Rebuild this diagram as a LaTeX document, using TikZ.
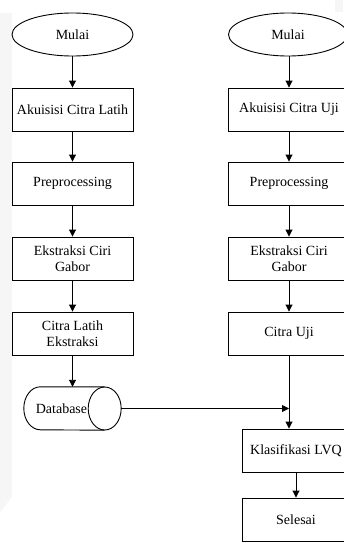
\documentclass[tikz,border=0pt]{standalone}
\usepackage{fontspec}
\setmainfont{Liberation Serif}
\usetikzlibrary{shapes.geometric,arrows.meta}
\tikzset{
  terminal/.style={shape=ellipse,draw=black,line width=0.9pt,inner sep=0pt,minimum height=43pt},
  process/.style={shape=rectangle,draw=black,line width=0.9pt,inner sep=0pt,minimum width=121pt,minimum height=43pt,align=center},
  store/.style={shape=rectangle,inner sep=0pt,minimum width=97pt,minimum height=43pt},
  flow/.style={-{Triangle[length=7pt,width=7pt]},line width=0.9pt}
}
\begin{document}
\begin{tikzpicture}[x=1pt,y=-1pt,font=\fontsize{14}{15.5}\selectfont]
\useasboundingbox (0,0) rectangle (343,543);
\fill[gray!7] (0,13) -- (12,13) -- (12,497) -- (0,512) -- cycle;
\fill[gray!7] (335,0) rectangle (343,12);
% training
\node[terminal,minimum width=121pt] (mulai1) at (72.5,34.5) {Mulai};
\node[process] (akuisisi1) at (72.5,109.5) {Akuisisi Citra Latih};
\node[process] (pre1) at (72.5,183.5) {Preprocessing};
\node[process] (ekstraksi1) at (72.5,258.5) {Ekstraksi Ciri\\Gabor};
\node[process] (citra1) at (72.5,333.5) {Citra Latih\\Ekstraksi};
\node[store] (db) at (72.5,408.5) {};
\draw[line width=0.9pt] ([xshift=-16.5pt]db.north east) -- ([xshift=16.5pt]db.north west)
  arc[start angle=90,end angle=270,x radius=16.5pt,y radius=21.5pt] -- ([xshift=-16.5pt]db.south east);
\draw[line width=0.9pt] ([xshift=-16.5pt]db.east) ellipse[x radius=16.5pt,y radius=21.5pt];
\node (dblabel) at ([xshift=-11pt]db.center) {Database};
% testing
\node[terminal,minimum width=119pt] (mulai2) at (288,34.5) {Mulai};
\node[process] (akuisisi2) at (289,109.5) {Akuisisi Citra Uji};
\node[process] (pre2) at (289,183.5) {Preprocessing};
\node[process] (ekstraksi2) at (289,258.5) {Ekstraksi Ciri\\Gabor};
\node[process] (citra2) at (289,333.5) {Citra Uji};
\node[process,minimum width=108pt] (lvq) at (296,450.5) {Klasifikasi LVQ};
\node[process,minimum width=108pt] (selesai) at (296,519.5) {Selesai};
\coordinate (join) at (citra2.south |- db.east);
\draw[flow] (mulai1) -- (akuisisi1);
\draw[flow] (akuisisi1) -- (pre1);
\draw[flow] (pre1) -- (ekstraksi1);
\draw[flow] (ekstraksi1) -- (citra1);
\draw[flow] (citra1) -- (db);
\draw[flow] (mulai2.south -| akuisisi2) -- (akuisisi2);
\draw[flow] (akuisisi2) -- (pre2);
\draw[flow] (pre2) -- (ekstraksi2);
\draw[flow] (ekstraksi2) -- (citra2);
\draw[flow] (citra2) -- (citra2.south |- lvq.north);
\draw[flow] (db.east) -- (join);
\draw[flow] (lvq) -- (selesai);
\end{tikzpicture}
\end{document}
